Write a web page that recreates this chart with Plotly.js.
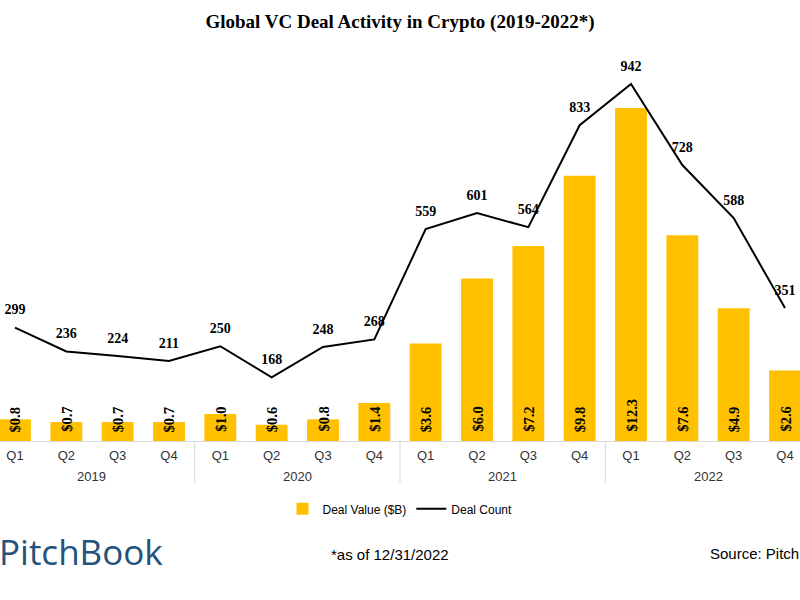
<!DOCTYPE html>
<html>
<head>
<meta charset="utf-8">
<script src="https://cdn.plot.ly/plotly-3.0.1.min.js"></script>
<style>html,body{margin:0;padding:0;background:#fff;}</style>
</head>
<body>
<div id="chart" style="width:800px;height:600px;"></div>
<script>
const years = ["2019","2019","2019","2019","2020","2020","2020","2020","2021","2021","2021","2021","2022","2022","2022","2022"];
const quarters = ["Q1","Q2","Q3","Q4","Q1","Q2","Q3","Q4","Q1","Q2","Q3","Q4","Q1","Q2","Q3","Q4"];
const dealValue = [0.8,0.7,0.7,0.7,1.0,0.6,0.8,1.4,3.6,6.0,7.2,9.8,12.3,7.6,4.9,2.6];
const dealCount = [299,236,224,211,250,168,248,268,559,601,564,833,942,728,588,351];

const serif = "Liberation Serif, DejaVu Serif, serif";
const sans = "Liberation Sans, Arial, sans-serif";
const narrow = "Liberation Sans Narrow, Liberation Sans, Arial, sans-serif";

const cats = years.map((y, i) => y + " " + quarters[i]);

const bars = {
  type: "bar",
  name: "Deal Value ($B)",
  x: cats,
  y: dealValue,
  marker: {color: "#FFC000"},
  width: 0.62,
  hoverinfo: "skip"
};
const line = {
  type: "scatter",
  mode: "lines+markers+text",
  name: "Deal Count",
  x: cats,
  y: dealCount,
  yaxis: "y2",
  line: {color: "#000000", width: 2},
  marker: {size: 14, color: "rgba(0,0,0,0)"},
  text: dealCount.map(String),
  textposition: "top center",
  textfont: {family: serif, size: 14, color: "#000", weight: 700},
  cliponaxis: false,
  hoverinfo: "skip"
};

const annotations = dealValue.map((v, i) => ({
  x: i, y: 0, xref: "x", yref: "y",
  text: "$" + v.toFixed(1),
  textangle: -90,
  showarrow: false,
  yanchor: "bottom",
  yshift: 7,
  font: {family: serif, size: 14.5, color: "#000", weight: 700}
}));

// year group labels and dividers
const shapes = [];
const uniqYears = [...new Set(years)];
uniqYears.forEach(yr => {
  const idx = years.map((y, i) => y === yr ? i : -1).filter(i => i >= 0);
  const mid = (idx[0] + idx[idx.length - 1]) / 2;
  annotations.push({x: mid, xref: "x", y: -0.092, yref: "paper", yanchor: "middle",
    text: yr, showarrow: false, font: {family: sans, size: 13, color: "#333"}});
});
for (let i = 1; i < years.length; i++) {
  if (years[i] !== years[i - 1]) {
    shapes.push({type: "line", xref: "x", yref: "paper", x0: i - 0.5, x1: i - 0.5,
      y0: 0, y1: -0.11, line: {color: "#d9d9d9", width: 1}});
  }
}

annotations.push(
  {xref: "paper", yref: "paper", x: 0, y: -0.291, xanchor: "left", yanchor: "middle", xshift: -3,
   text: "PitchBook", showarrow: false,
   font: {family: "Open Sans, Noto Sans, sans-serif", size: 35, color: "#23527c"}},
  {xref: "paper", yref: "paper", x: 0.4875, y: -0.299, xanchor: "center", yanchor: "middle",
   text: "*as of 12/31/2022", showarrow: false,
   font: {family: narrow, size: 15, color: "#000"}},
  {xref: "paper", yref: "paper", x: 0.885, y: -0.295, xanchor: "left", yanchor: "middle",
   text: "Source: PitchBook", showarrow: false,
   font: {family: narrow, size: 15, color: "#000"}}
);

const layout = {
  width: 800, height: 600,
  margin: {l: 0, r: 0, t: 60, b: 159},
  paper_bgcolor: "#fff", plot_bgcolor: "#fff",
  title: {text: "Global VC Deal Activity in Crypto (2019-2022*)", x: 0.5, xanchor: "center",
          y: 0.965, yanchor: "middle",
          font: {family: serif, size: 19, color: "#000", weight: 700}},
  xaxis: {type: "category", range: [-0.292, 15.292], showline: true, linecolor: "#d9d9d9",
          linewidth: 1, showgrid: false, zeroline: false, ticks: "",
          tickvals: cats, ticktext: quarters, tickangle: 0,
          ticklabelstandoff: 2,
          tickfont: {family: sans, size: 13, color: "#333"}},
  yaxis: {range: [0, 14.07], visible: false, fixedrange: true},
  yaxis2: {range: [0, 1005], overlaying: "y", visible: false, fixedrange: true},
  showlegend: true,
  legend: {orientation: "h", x: 0.5, xanchor: "center", y: -0.178, yanchor: "middle",
           font: {family: narrow, size: 12, color: "#000"}},
  annotations: annotations,
  shapes: shapes,
  bargap: 0.38
};
Plotly.newPlot("chart", [bars, line], layout, {displayModeBar: false, staticPlot: true});
</script>
</body>
</html>
